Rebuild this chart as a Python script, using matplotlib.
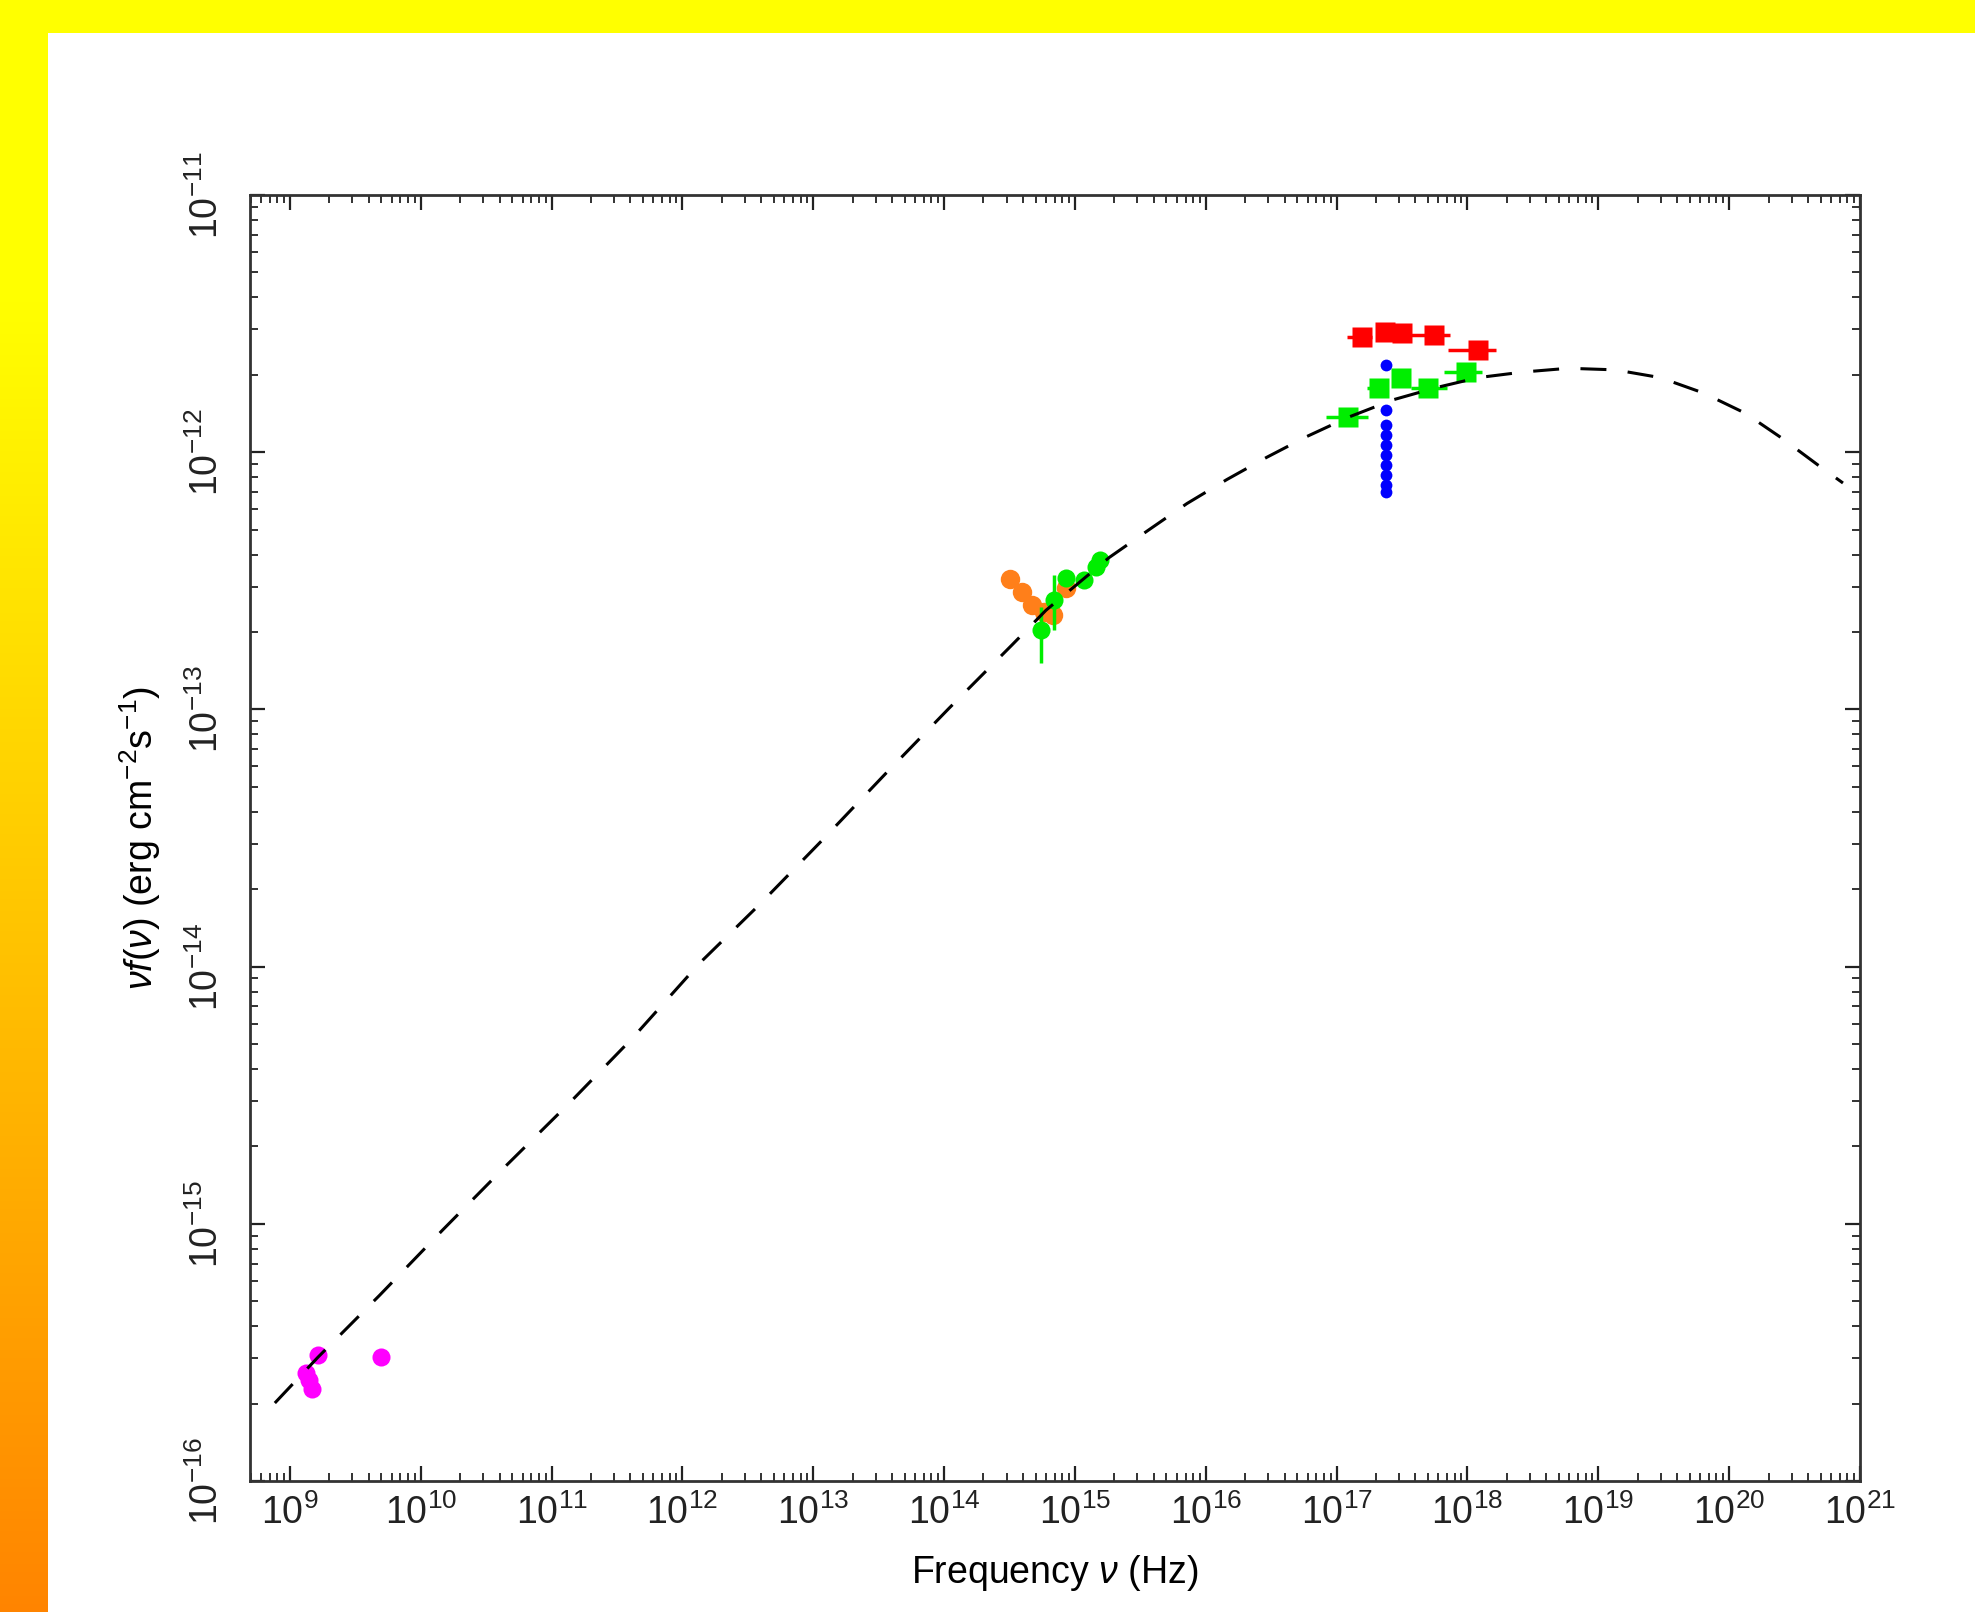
import numpy as np
import matplotlib
matplotlib.use("Agg")
import matplotlib.pyplot as plt
from matplotlib.patches import Rectangle
from matplotlib.ticker import LogLocator, NullFormatter, LogFormatterMathtext

plt.rcParams['font.family'] = ['Liberation Sans', 'DejaVu Sans']
plt.rcParams['mathtext.fontset'] = 'custom'
plt.rcParams['mathtext.rm'] = 'Liberation Sans'
plt.rcParams['mathtext.it'] = 'Liberation Sans:italic'
plt.rcParams['mathtext.bf'] = 'Liberation Sans:bold'

# model curve (Hz, erg cm^-2 s^-1)
model_nu = [7.67e8, 1.64e9, 4.86e9, 1.47e10, 4.53e10, 1.37e11, 4.15e11, 1.35e12,
            3.87e12, 1.17e13, 3.61e13, 1.09e14, 3.30e14, 6.01e14, 1.82e15, 3.67e15,
            7.16e15, 1.45e16, 2.92e16, 5.90e16, 1.24e17, 2.72e17, 5.70e17, 1.21e18,
            2.67e18, 5.90e18, 1.35e19, 2.97e19, 6.34e19, 1.32e20, 2.49e20, 4.78e20, 7.41e20]
model_f = [2.01e-16, 3.03e-16, 5.28e-16, 9.46e-16, 1.69e-15, 2.95e-15, 5.27e-15, 1.03e-14,
           1.74e-14, 3.10e-14, 5.66e-14, 1.01e-13, 1.78e-13, 2.43e-13, 3.89e-13, 4.99e-13,
           6.31e-13, 7.83e-13, 9.55e-13, 1.15e-12, 1.37e-12, 1.60e-12, 1.78e-12, 1.95e-12,
           2.05e-12, 2.12e-12, 2.09e-12, 1.95e-12, 1.70e-12, 1.42e-12, 1.14e-12, 8.91e-13, 7.59e-13]

# radio
radio_nu = [1.32e9, 1.63e9, 1.47e9, 1.40e9, 5.0e9]
radio_f = [2.63e-16, 3.09e-16, 2.28e-16, 2.47e-16, 3.03e-16]

# optical (orange)
opt_nu = [3.19e14, 3.94e14, 4.70e14, 5.75e14, 6.76e14, 8.51e14]
opt_f = [3.21e-13, 2.86e-13, 2.55e-13, 2.40e-13, 2.33e-13, 2.96e-13]

# optical / UV (green)
uv_nu = [5.50e14, 6.92e14, 8.51e14, 1.17e15, 1.45e15, 1.55e15]
uv_f = [2.04e-13, 2.66e-13, 3.25e-13, 3.18e-13, 3.57e-13, 3.80e-13]
uv_lo = [1.51e-13, 2.04e-13, 3.25e-13, 3.18e-13, 3.57e-13, 3.80e-13]
uv_hi = [2.50e-13, 3.33e-13, 3.25e-13, 3.18e-13, 3.57e-13, 3.80e-13]

# X-ray, high state (red)
red_nu = [1.55e17, 2.34e17, 3.16e17, 5.50e17, 1.20e18]
red_f = [2.81e-12, 2.93e-12, 2.90e-12, 2.85e-12, 2.49e-12]
red_lo = [1.20e17, 2.34e17, 3.16e17, 3.70e17, 7.10e17]
red_hi = [1.86e17, 2.34e17, 3.16e17, 7.40e17, 1.66e18]

# X-ray, low state (green)
gx_nu = [1.23e17, 2.10e17, 3.10e17, 5.00e17, 9.80e17]
gx_f = [1.37e-12, 1.78e-12, 1.95e-12, 1.78e-12, 2.05e-12]
gx_lo = [8.30e16, 1.70e17, 3.10e17, 3.70e17, 6.60e17]
gx_hi = [1.74e17, 2.10e17, 3.10e17, 7.00e17, 1.29e18]

# X-ray monitoring (blue)
mon_nu = [2.37e17] * 10
mon_f = [2.18e-12, 1.46e-12, 1.28e-12, 1.17e-12, 1.07e-12,
         9.75e-13, 8.90e-13, 8.15e-13, 7.46e-13, 7.00e-13]

x_ticks = [1e9, 1e10, 1e11, 1e12, 1e13, 1e14, 1e15, 1e16, 1e17, 1e18, 1e19, 1e20, 1e21]
y_ticks = [1e-16, 1e-15, 1e-14, 1e-13, 1e-12, 1e-11]


def asym(c, lo, hi):
    c, lo, hi = np.array(c), np.array(lo), np.array(hi)
    return [c - lo, hi - c]


fig = plt.figure(figsize=(19.75, 16.12), dpi=100)
fig.patch.set_facecolor('white')

# slide frame: yellow top band, yellow-to-orange strip on the left
bg = fig.add_axes([0, 0, 1, 1], zorder=-10)
bg.set_xlim(0, 1975)
bg.set_ylim(1612, 0)
bg.axis('off')
g = np.clip(1.0 - (np.linspace(0, 1612, 400) - 300) / (1612 - 300) * 0.48, 0.52, 1.0)
grad = np.stack([np.ones_like(g), g, np.zeros_like(g)], axis=1)[:, None, :]
bg.imshow(grad, extent=[0, 48, 1612, 0], aspect='auto')
bg.add_patch(Rectangle((0, 0), 1975, 33, color='#ffff00', lw=0))

ax = fig.add_axes([250 / 1975, 1 - 1481 / 1612, 1610 / 1975, 1286 / 1612])
ax.set_xscale('log')
ax.set_yscale('log')

ax.plot(model_nu, model_f, color='black', lw=2.2, ls=(0, (8.5, 7)), zorder=6)

ax.errorbar(radio_nu, radio_f, fmt='o', color='#ff00ff', ms=13, mec='none', zorder=3)
ax.errorbar(opt_nu, opt_f, fmt='o', color='#ff7f1a', ms=14, mec='none', zorder=3)
ax.errorbar(uv_nu, uv_f, yerr=asym(uv_f, uv_lo, uv_hi), fmt='o', color='#00ee00',
            ms=13, mec='none', elinewidth=2.5, capsize=0, zorder=4)
ax.errorbar(red_nu, red_f, xerr=asym(red_nu, red_lo, red_hi), fmt='s', color='#ff0000',
            ms=15, mec='none', elinewidth=2.5, capsize=0, zorder=3)
ax.errorbar(gx_nu, gx_f, xerr=asym(gx_nu, gx_lo, gx_hi), fmt='s', color='#00ee00',
            ms=15, mec='none', elinewidth=2.5, capsize=0, zorder=3)
ax.errorbar(mon_nu, mon_f, fmt='o', color='#0000ff', ms=8.5, mec='none', zorder=3)

ax.set_xlim(10 ** 8.695, 1e21)
ax.set_ylim(1e-16, 1e-11)

ax.set_xticks(x_ticks)
ax.set_yticks(y_ticks)
for axis in (ax.xaxis, ax.yaxis):
    axis.set_minor_locator(LogLocator(base=10, subs=np.arange(2, 10), numticks=100))
    axis.set_major_formatter(LogFormatterMathtext())
    axis.set_minor_formatter(NullFormatter())

ax.tick_params(which='both', direction='in', top=True, right=True, colors='#222222')
ax.tick_params(which='major', length=11, width=1.6, labelsize=27)
ax.tick_params(which='minor', length=6, width=1.3)
ax.tick_params(axis='x', which='major', pad=10)
ax.tick_params(axis='y', which='major', pad=17, labelrotation=90)
for lab in ax.get_yticklabels():
    lab.set_va('center')
for sp in ax.spines.values():
    sp.set_color('#333333')
    sp.set_linewidth(2)

ax.set_xlabel(r'Frequency $\nu$ (Hz)', fontsize=27)
ax.set_ylabel(r'$\nu f(\nu)$ (erg cm$^{-2}$s$^{-1}$)', fontsize=27)
ax.xaxis.set_label_coords(0.5, -0.056)
ax.yaxis.set_label_coords(-0.054, 0.5)

fig.savefig('out.png', dpi=100)
